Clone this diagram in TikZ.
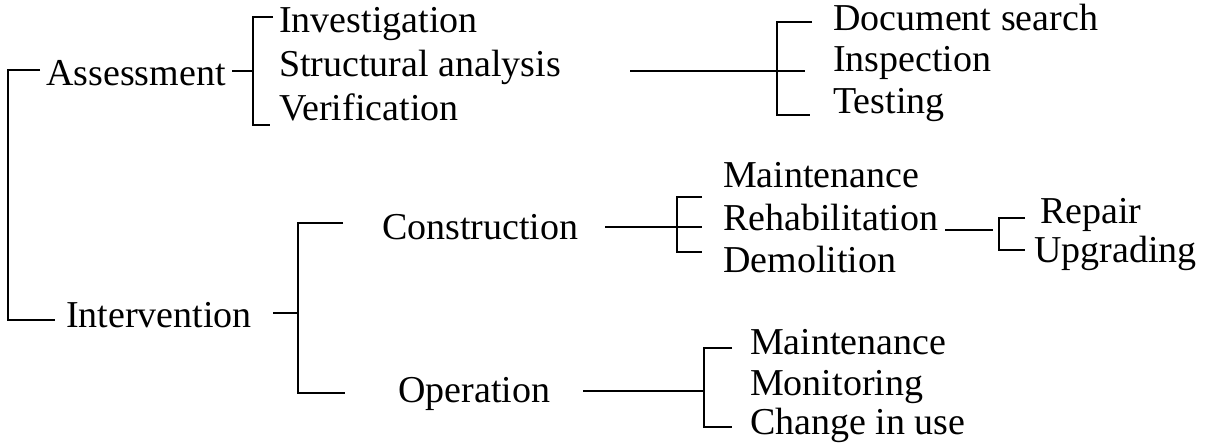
\documentclass[tikz,border=0pt]{standalone}
\usepackage{fontspec}
\setmainfont{Liberation Serif}
\begin{document}
\begin{tikzpicture}[x=1pt,y=-1pt,
  lbl/.style={anchor=base west,inner sep=0pt,font=\fontsize{38}{44}\selectfont},
  conn/.style={line width=1.9pt,line cap=butt}]
\useasboundingbox (0,0) rectangle (1205,446);
% text nodes
\node[lbl] (assess) at (46,86) {Assessment};
\node[lbl] (interv) at (66,327) {Intervention};
\node[lbl] (invest) at (279,33) {Investigation};
\node[lbl] (struct) at (279,77) {Structural analysis};
\node[lbl] (verif) at (279,121) {Verification};
\node[lbl] (docs) at (833,31) {Document search};
\node[lbl] (insp) at (833,72) {Inspection};
\node[lbl] (test) at (833,114) {Testing};
\node[lbl] (constr) at (382,240) {Construction};
\node[lbl] (oper) at (398,402) {Operation};
\node[lbl] (maint) at (723,188) {Maintenance};
\node[lbl] (rehab) at (723,231) {Rehabilitation};
\node[lbl] (demol) at (723,273) {Demolition};
\node[lbl] (repair) at (1040,224) {Repair};
\node[lbl] (upgr) at (1034,263) {Upgrading};
\node[lbl] (maintb) at (750,355) {Maintenance};
\node[lbl] (monit) at (750,395) {Monitoring};
\node[lbl] (change) at (750,434) {Change in use};
% bracket coordinates
\coordinate (r1e) at (40,70);  \coordinate (r1) at (8,70);
\coordinate (r2) at (8,320);   \coordinate (r2e) at (55,320);
\coordinate (at1) at (232,71); \coordinate (at2) at (253,71);
\coordinate (a1e) at (273,17); \coordinate (a1) at (253,17);
\coordinate (a2) at (253,125); \coordinate (a2e) at (270,125);
\coordinate (sl1) at (630,71); \coordinate (sl2) at (805,71);
\coordinate (s1e) at (812,22); \coordinate (s1) at (777,22);
\coordinate (s2) at (777,115); \coordinate (s2e) at (810,115);
\coordinate (it1) at (273,313); \coordinate (it2) at (298,313);
\coordinate (i1e) at (343,223); \coordinate (i1) at (298,223);
\coordinate (i2) at (298,393); \coordinate (i2e) at (345,393);
\coordinate (cl1) at (605,227); \coordinate (cl2) at (702,227);
\coordinate (c1e) at (702,197); \coordinate (c1) at (677,197);
\coordinate (c2) at (677,252); \coordinate (c2e) at (702,252);
\coordinate (rl1) at (945,230); \coordinate (rl2) at (993,230);
\coordinate (q1e) at (1025,218); \coordinate (q1) at (999,218);
\coordinate (q2) at (999,250); \coordinate (q2e) at (1025,250);
\coordinate (ol1) at (583,391); \coordinate (ol2) at (704,391);
\coordinate (o1e) at (732,348); \coordinate (o1) at (704,348);
\coordinate (o2) at (704,427); \coordinate (o2e) at (732,427);
% connectors
\draw[conn] (r1e) -- (r1) -- (r2) -- (r2e);
\draw[conn] (at1) -- (at2);
\draw[conn] (a1e) -- (a1) -- (a2) -- (a2e);
\draw[conn] (sl1) -- (sl2);
\draw[conn] (s1e) -- (s1) -- (s2) -- (s2e);
\draw[conn] (it1) -- (it2);
\draw[conn] (i1e) -- (i1) -- (i2) -- (i2e);
\draw[conn] (cl1) -- (cl2);
\draw[conn] (c1e) -- (c1) -- (c2) -- (c2e);
\draw[conn] (rl1) -- (rl2);
\draw[conn] (q1e) -- (q1) -- (q2) -- (q2e);
\draw[conn] (ol1) -- (ol2);
\draw[conn] (o1e) -- (o1) -- (o2) -- (o2e);
\end{tikzpicture}
\end{document}
